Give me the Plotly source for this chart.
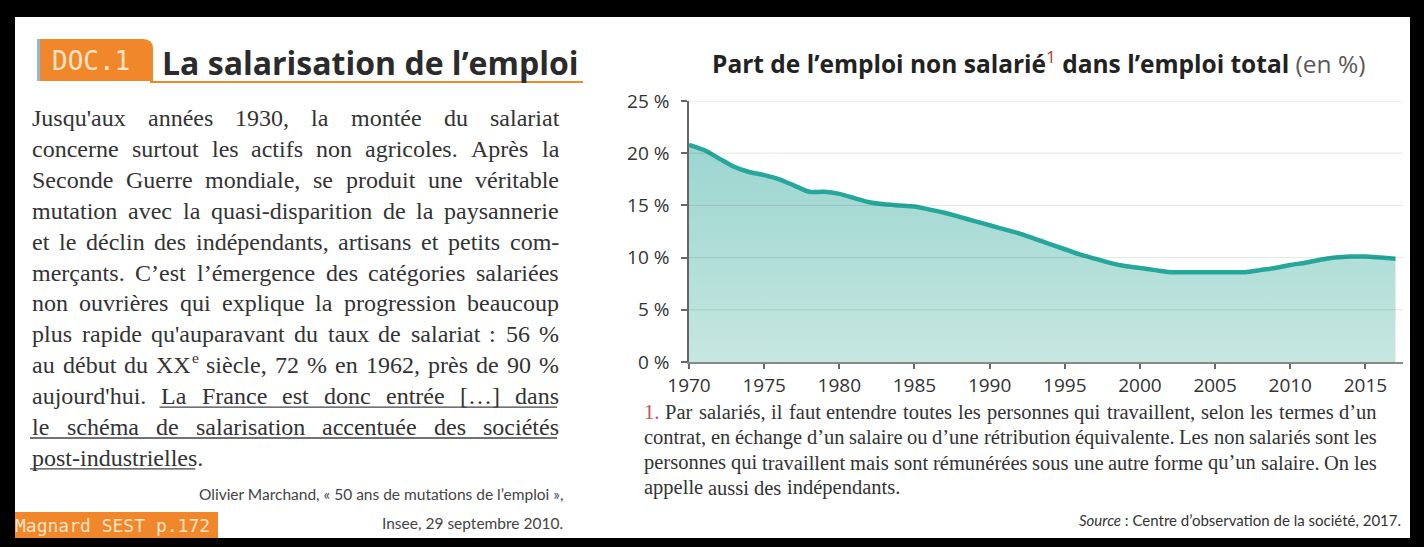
import unicodedata
import re
import plotly.graph_objects as go

# --- data ------------------------------------------------------------------
years = list(range(1970, 2018))
non_salaried_share = [
    20.8, 20.3, 19.5, 18.7, 18.2, 17.9, 17.5, 16.9, 16.3, 16.3,
    16.1, 15.7, 15.3, 15.1, 15.0, 14.9, 14.6, 14.3, 13.9, 13.5,
    13.1, 12.7, 12.3, 11.8, 11.3, 10.8, 10.3, 9.9, 9.5, 9.2,
    9.0, 8.8, 8.6, 8.6, 8.6, 8.6, 8.6, 8.6, 8.8, 9.0,
    9.3, 9.5, 9.8, 10.0, 10.1, 10.1, 10.0, 9.9,
]
y_ticks = [0, 5, 10, 15, 20, 25]
y_tick_labels = ["0 %", "5 %", "10 %", "15 %", "20 %", "25 %"]
x_ticks = [1970, 1975, 1980, 1985, 1990, 1995, 2000, 2005, 2010, 2015]

chart_title = ("<b>Part de l’emploi non salarié</b><sup><span style='color:#b03a3a'>1</span></sup>"
               "<b> dans l’emploi total</b> <span style='color:#5a5a5a'>(en %)</span>")
doc_label = "DOC.1"
doc_heading = "<b>La salarisation de l’emploi</b>"
body_lines = [
    "Jusqu'aux années 1930, la montée du salariat",
    "concerne surtout les actifs non agricoles. Après la",
    "Seconde Guerre mondiale, se produit une véritable",
    "mutation avec la quasi-disparition de la paysannerie",
    "et le déclin des indépendants, artisans et petits com-",
    "merçants. C’est l’émergence des catégories salariées",
    "non ouvrières qui explique la progression beaucoup",
    "plus rapide qu'auparavant du taux de salariat : 56 %",
    "au début du XX^e siècle, 72 % en 1962, près de 90 %",
    "aujourd'hui. La France est donc entrée […] dans",
    "le schéma de salarisation accentuée des sociétés",
    "post-industrielles.",
]
# (line index, first underlined word, last underlined word) - None = to end
underlined = [(9, 1, None), (10, 0, None), (11, 0, 0)]
citation_lines = [
    "Olivier Marchand, « 50 ans de mutations de l’emploi »,",
    "Insee, 29 septembre 2010.",
]
footnote_lines = [
    "1. Par salariés, il faut entendre toutes les personnes qui travaillent, selon les termes d’un",
    "contrat, en échange d’un salaire ou d’une rétribution équivalente. Les non salariés sont les",
    "personnes qui travaillent mais sont rémunérées sous une autre forme qu’un salaire. On les",
    "appelle aussi des indépendants.",
]
footnote_marker = "1."
source_text = "<i>Source</i> : Centre d’observation de la société, 2017."
page_tag = "Magnard SEST p.172"

# --- page geometry (pixels) -------------------------------------------------
W, H = 1424, 547
PL, PR, PT, PB = 689, 1403, 101, 362


def px(x):
    return (x - PL) / (PR - PL)


def py(y):
    return (PB - y) / (PB - PT)


def note(text, x, y, size, color="#333", family="Liberation Serif",
         xanchor="left", yanchor="middle"):
    return dict(text=text, x=px(x), y=py(y), xref="paper", yref="paper",
                showarrow=False, xanchor=xanchor, yanchor=yanchor,
                font=dict(size=size, color=color, family=family))


def box(x0, y0, x1, y1, color, layer="below"):
    return dict(type="rect", xref="paper", yref="paper",
                x0=px(x0), x1=px(x1), y0=py(y1), y1=py(y0),
                fillcolor=color, line=dict(width=0), layer=layer)


def hline(x0, x1, y, color, width=1.0, layer="below"):
    return dict(type="line", xref="paper", yref="paper", layer=layer,
                x0=px(x0), x1=px(x1), y0=py(y), y1=py(y),
                line=dict(color=color, width=width))


# Times / Liberation Serif advance widths (1/1000 em), used to justify text
TIMES = dict(zip("abcdefghijklmnopqrstuvwxyz",
                 [444, 500, 444, 500, 444, 333, 500, 500, 278, 278, 500, 278, 778,
                  500, 500, 500, 500, 333, 389, 278, 500, 500, 722, 500, 500, 444]))
TIMES.update(zip("ABCDEFGHIJKLMNOPQRSTUVWXYZ",
                 [722, 667, 667, 722, 611, 556, 722, 722, 333, 389, 722, 611, 889,
                  722, 722, 556, 722, 667, 556, 611, 722, 722, 944, 722, 722, 611]))
TIMES.update({c: 500 for c in "0123456789"})
TIMES.update({" ": 250, ",": 250, ".": 250, ":": 278, ";": 278, "-": 333, "'": 180,
              "’": 333, "%": 833, "[": 333, "]": 333, "…": 1000, "«": 500, "»": 500})
SUP = 0.65


def raw_width(s, size):
    total = 0
    for ch in s:
        base = unicodedata.normalize("NFD", ch)[0]
        total += TIMES.get(base, 500)
    return total * size / 1000


def text_width(word, size):
    base, _, sup = word.partition("^")
    return raw_width(base, size) + raw_width(sup, size * SUP)


def justify(lines, x0, x1, y0, dy, size, color, marker=None, marker_color=None):
    out, spans = [], []
    for i, line in enumerate(lines):
        words = line.split(" ")
        widths = [text_width(w, size) for w in words]
        if i == len(lines) - 1 or len(words) == 1:
            gap = 0.25 * size
        else:
            gap = max((x1 - x0 - sum(widths)) / (len(words) - 1), 0.15 * size)
        x = x0
        pos = []
        for j, (w, wd) in enumerate(zip(words, widths)):
            c = marker_color if (i == 0 and j == 0 and w == marker) else color
            base, _, sup = w.partition("^")
            yy = y0 + i * dy
            out.append(note(base, x, yy, size, c))
            if sup:
                out.append(note(sup, x + raw_width(base, size) + 1, yy - 0.33 * size,
                                size * SUP, c))
            pos.append((x, x + wd))
            x += wd + gap
        spans.append(pos)
    return out, spans


TEAL = "#26a79c"

trace = go.Scatter(
    x=years, y=non_salaried_share, mode="lines",
    line=dict(color=TEAL, width=4.5, shape="spline", smoothing=0.7),
    fill="tozeroy",
    fillgradient=dict(type="vertical", start=0, stop=21,
                      colorscale=[[0, "#c6e7e0"], [1, "#9bd5d0"]]),
    hoverinfo="skip", showlegend=False,
)

shapes = [box(15, 17, 1410, 538, "white")]
# DOC.1 tab with rounded top-right corner
x0, x1, y0, y1, r = px(37), px(153), py(81), py(39), 10
rx, ry = r / (PR - PL), r / (PB - PT)
shapes.append(dict(type="path", xref="paper", yref="paper", layer="below",
                   path=f"M {x0},{y0} L {x0},{y1} L {x1 - rx},{y1} Q {x1},{y1} {x1},{y1 - ry} L {x1},{y0} Z",
                   fillcolor="#f0872a", line=dict(width=0)))
shapes.append(box(37, 39, 40, 81, "#8fb9d6"))
shapes.append(hline(150, 583, 82, "#e98b2a", 2))
shapes.append(box(15, 512, 218, 538, "#f0872a"))
# horizontal guides drawn over the area fill
for v in y_ticks[1:]:
    shapes.append(dict(type="line", xref="paper", yref="y", layer="above",
                       x0=0, x1=1, y0=v, y1=v,
                       line=dict(color="rgba(0,0,0,0.10)", width=1)))

annotations = [
    note(chart_title, 1038, 62, 24.5, "#222", "Open Sans", "center"),
    note(doc_label, 50, 61, 26, "#fbe3c6", "DejaVu Sans Mono"),
    note(doc_heading, 160, 62, 32, "#2b2b2b", "Open Sans"),
    note(page_tag, 13, 525, 18, "#fbe3c6", "DejaVu Sans Mono"),
    note(source_text, 1403, 520, 15, "#333", "Lato", "right"),
]

BODY_Y, BODY_DY, BODY_SIZE = 118, 30.9, 24
body_notes, body_spans = justify(body_lines, 30, 557, BODY_Y, BODY_DY, BODY_SIZE, "#333")
annotations += body_notes
for li, first, last in underlined:
    pos = body_spans[li]
    xa = pos[first][0]
    xb = pos[-1][1] if last is None else pos[last][1]
    if last is not None and body_lines[li].split(" ")[last].endswith("."):
        xb -= raw_width(".", BODY_SIZE)
    shapes.append(hline(xa, xb, BODY_Y + li * BODY_DY + 11, "#444", 1.3))

foot_notes, _ = justify(footnote_lines, 642, 1375, 412, 25.3, 20.5, "#333",
                        footnote_marker, "#c8504f")
annotations += foot_notes
for i, line in enumerate(citation_lines):
    annotations.append(note(line, 565, 494 + i * 29, 15.5, "#444", "Lato", "right"))

tick_font = dict(family="Open Sans", size=19, color="#333")
layout = go.Layout(
    width=W, height=H,
    margin=dict(l=PL, r=W - PR, t=PT, b=H - PB, pad=0),
    paper_bgcolor="black", plot_bgcolor="white",
    xaxis=dict(range=[1970, 2017.5], tickvals=x_ticks, showgrid=False,
               ticks="outside", ticklen=5, tickcolor="#666", tickwidth=1.5,
               showline=True, linecolor="#888", linewidth=1.5, zeroline=False,
               tickfont=tick_font),
    yaxis=dict(range=[0, 25], tickvals=y_ticks, ticktext=y_tick_labels, showgrid=False,
               ticks="outside", ticklen=6, tickcolor="#666", tickwidth=1.5,
               ticklabelstandoff=8,
               showline=True, linecolor="#666", linewidth=1.5, zeroline=False,
               tickfont=tick_font),
    shapes=shapes, annotations=annotations,
)

fig = go.Figure(data=[trace], layout=layout)
fig.write_html("out.html", config={"displayModeBar": False},
               post_script="document.body.style.margin='0px';")
